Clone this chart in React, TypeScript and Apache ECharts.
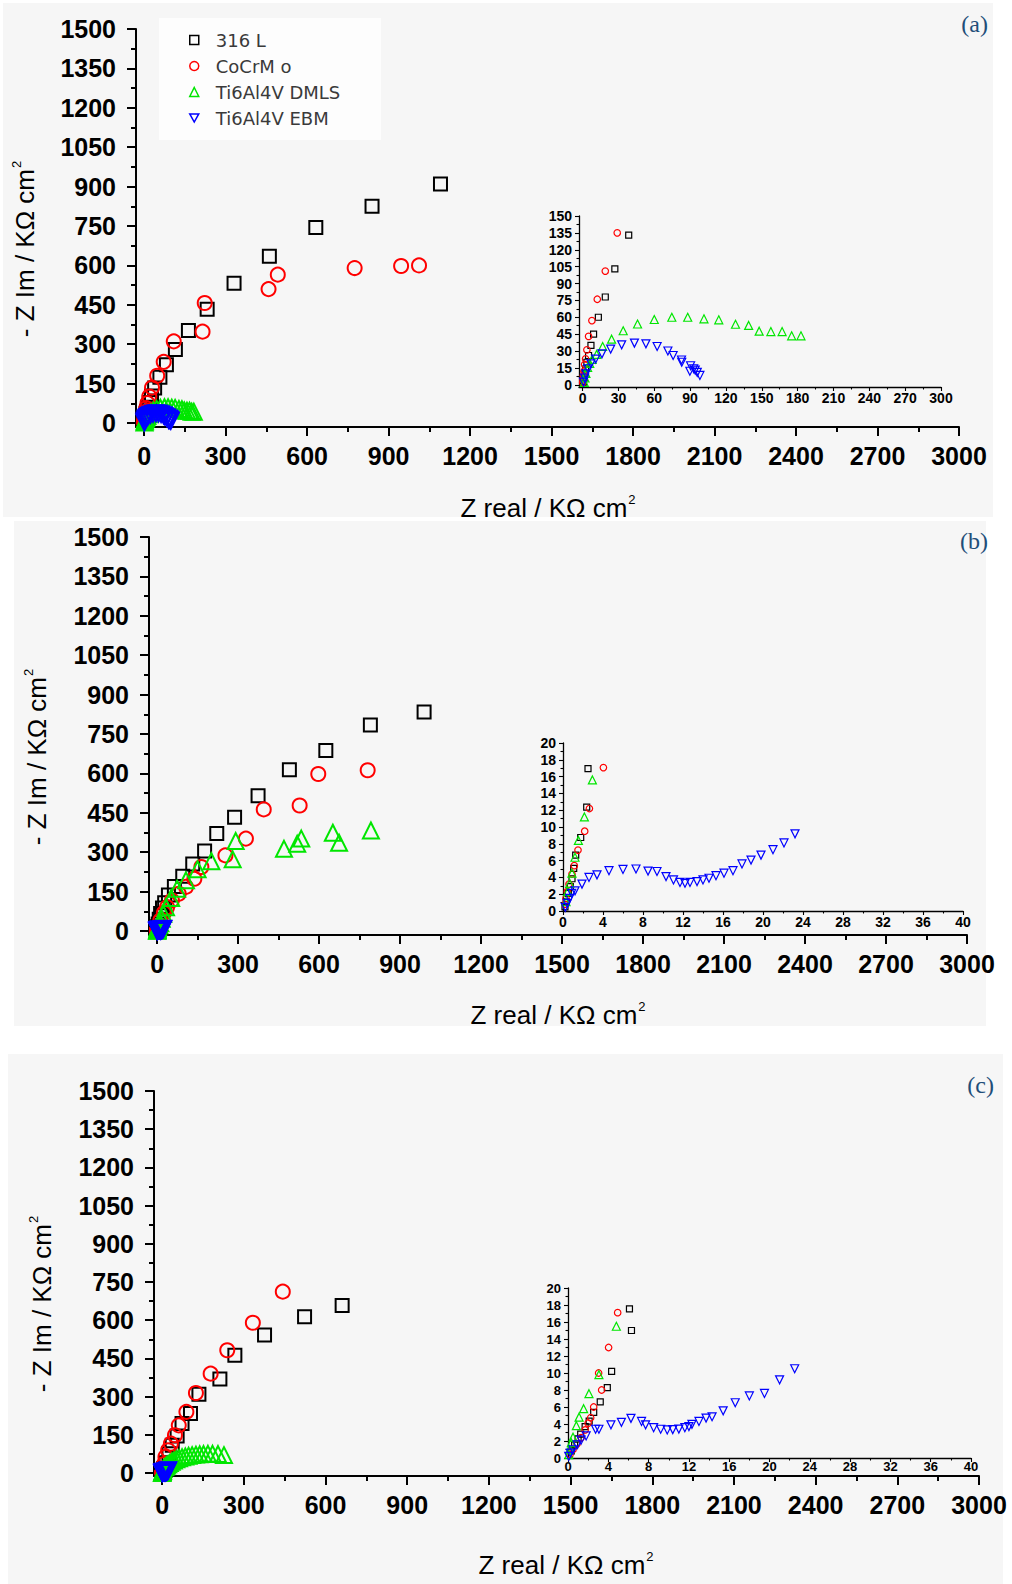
import React, { useEffect, useRef } from 'react';
import * as echarts from 'echarts';

// ---------- DATA (Z real, -Z Im) in kΩ cm² ----------
// Panel (a)
const a316L = [[0.4,1.5],[0.8,3],[1.3,6],[2,10],[2.5,14],[3.6,20],[5,26],[7,35],[9.2,45],[13.2,60],[19,78],[27,103],[38.6,133],[58,174],[82,222],[115,280],[163,352],[232,433],[331,532],[461,635],[632,744],[839,825],[1091,910]];
const aCoCrMo = [[0.1,2],[0.3,4.4],[0.6,8],[1.1,12],[1.7,18],[2.5,23],[3.6,31],[5,43],[7.8,57],[12.3,76],[19,101],[29,135],[48,180],[72,233],[109,311],[215,348],[223,457],[458,510],[492,565],[775,590],[946,598],[1012,600]];
const aDMLS = [[1.4,2],[2,6],[2.8,10],[4.2,15.4],[6,19],[8,22.5],[11.8,27],[16.8,34],[24.3,40.5],[34,48],[46,54],[60,58],[74.7,60],[88,60],[101.6,58.6],[114,57.7],[128,53.8],[139,52.7],[147.8,47.6],[157.6,47.3],[167,47.3],[175,43.5],[182.8,43.5]];
const aEBM = [[0.8,2.4],[1.7,6],[2.8,9.8],[4.5,14.2],[7,18.6],[10.9,22.8],[16.2,27.5],[23.5,31.7],[32.7,35.5],[43.4,37],[53,36.4],[62.4,34],[71.4,30],[75.8,26],[82.8,22],[83,20],[89.8,12],[90.4,16.9],[93,14.2],[94.3,13],[96,11],[98.2,8.3]];

// Panel (b)
const b316L = [[0.2,0.5],[0.33,1.1],[0.53,2.1],[0.73,2.9],[0.9,3.84],[1.07,5.07],[1.27,6.65],[1.77,8.75],[2.37,12.36],[2.5,16.95],[4,27],[8,45],[13,67],[20,88],[28,108],[42,137],[64,170],[95,209],[132,255],[176,305],[221,371],[287,433],[374,515],[490,614],[625,687],[790,784],[989,834]];
const bCoCrMo = [[0.2,0.8],[0.3,1.5],[0.43,2.3],[0.6,3.2],[0.9,4.4],[1.13,5.4],[1.5,7.25],[2.17,9.5],[2.64,12.2],[4.04,17.07],[12,40],[25,69],[37,91],[55,117],[80,142],[107,168],[138,199],[164,244],[253,288],[329,352],[395,463],[528,478],[597,598],[780,612]];
const bDMLS = [[0.3,1.1],[0.47,2.3],[0.67,3.3],[0.9,4.5],[1.2,6.4],[1.54,8.4],[2.14,11.2],[2.94,15.6],[8,22],[12,30],[17,47],[23,66],[33,91],[52,126],[74,161],[107,193],[150,235],[201,266],[280,273],[291,343],[470,313],[519,332],[534,352],[651,374],[674,336],[792,383]];
const bEBM = [[0.23,0.44],[0.43,0.9],[0.67,1.5],[0.87,2.1],[1.2,2.4],[1.9,3.2],[2.6,4.0],[3.4,4.3],[4.6,4.8],[6,4.95],[7.3,5.0],[8.5,4.75],[9.4,4.7],[10.3,4.1],[11.05,3.7],[11.7,3.4],[12.2,3.3],[12.7,3.4],[13.4,3.5],[14,3.7],[14.6,3.9],[15.3,4.2],[16.1,4.5],[17,4.8],[17.9,5.6],[18.8,6.06],[19.8,6.65],[21,7.3],[22.1,8.1],[23.2,9.19]];

// Panel (c)
const c316L = [[0.33,0.85],[0.66,1.55],[1,2.25],[1.26,2.8],[1.7,3.7],[2.1,4.35],[2.55,5.36],[3.2,6.6],[3.9,8.27],[4.33,10.2],[6.3,15],[6.1,17.55],[14,40],[25,75],[37,109],[55,145],[73,194],[104,233],[135,309],[212,369],[267,462],[376,542],[523,613],[661,658]];
const cCoCrMo = [[0.2,0.4],[0.5,1],[0.9,1.67],[1.3,2.4],[1.7,3.3],[2,4.1],[2.25,4.74],[2.55,6],[3.34,8],[3.04,10],[4.03,13],[4.93,17.1],[7,35],[12,63],[22,89],[32,115],[47,148],[61,187],[89,240],[124,314],[178,390],[239,482],[333,590],[443,712]];
const cDMLS = [[0.07,0.4],[0.17,1],[0.33,1.8],[0.5,2.45],[0.83,3.8],[1.1,4.8],[1.55,5.8],[2.08,7.57],[3.07,9.8],[4.8,15.5],[9,22],[13,25],[17,29],[22,34],[28,39],[35,44],[43,49],[52,54],[62,58],[73,62],[85,65],[97,68],[110,70],[124,72],[138,73],[152,74],[168,75],[185,75],[205,74],[227,70]];
const cEBM = [[0.07,0.2],[0.23,0.58],[0.5,0.97],[0.9,1.55],[1.3,2.1],[1.8,2.6],[2.74,3.38],[3.07,3.38],[4.26,3.9],[5.3,4.2],[6.25,4.66],[7.3,4.3],[7.7,3.9],[8.5,3.57],[9.2,3.38],[9.85,3.3],[10.4,3.34],[11,3.4],[11.6,3.57],[12,3.7],[12.3,3.96],[13,4.3],[13.7,4.7],[14.3,4.85],[15.4,5.55],[16.6,6.5],[18,7.3],[19.5,7.6],[21,9.2],[22.5,10.5]];

// ---------- TICKS ----------
const mainXTicks = [0,300,600,900,1200,1500,1800,2100,2400,2700,3000];
const mainYTicks = [0,150,300,450,600,750,900,1050,1200,1350,1500];
const insetAXTicks = [0,30,60,90,120,150,180,210,240,270,300];
const insetAYTicks = [0,15,30,45,60,75,90,105,120,135,150];
const insetBCXTicks = [0,4,8,12,16,20,24,28,32,36,40];
const insetBCYTicks = [0,2,4,6,8,10,12,14,16,18,20];

const seriesNames = ['316 L', 'CoCrM o', 'Ti6Al4V DMLS', 'Ti6Al4V EBM'];
const panelLabels = ['(a)', '(b)', '(c)'];

const panelData = [
  [a316L, aCoCrMo, aDMLS, aEBM],
  [b316L, bCoCrMo, bDMLS, bEBM],
  [c316L, cCoCrMo, cDMLS, cEBM],
];

const mats = [
  { color: '#000000', symbol: 'rect', rot: 0, big: 13, small: 6 },
  { color: '#ff0000', symbol: 'circle', rot: 0, big: 14, small: 6.5 },
  { color: '#00e600', symbol: 'triangle', rot: 0, big: 16, small: 8 },
  { color: '#0000ff', symbol: 'triangle', rot: 180, big: 16, small: 8 },
];

const FONT = '"Liberation Sans", Arial, Helvetica, sans-serif';

const midpoints = (arr: number[]) => arr.slice(0, -1).map((v, i) => (v + arr[i + 1]) / 2);

const grids: any[] = [
  { left: 136, top: 29, width: 823, height: 398, xmin: -30, xmax: 3000, ymin: -15, ymax: 1500, xt: mainXTicks, yt: mainYTicks, main: true, xm: 16, fs: 25 },
  { left: 579, top: 216, width: 362, height: 171, xmin: -3, xmax: 300, ymin: -2, ymax: 150, xt: insetAXTicks, yt: insetAYTicks, main: false, xm: 4, fs: 14 },
  { left: 149, top: 537, width: 818, height: 398, xmin: -30, xmax: 3000, ymin: -15, ymax: 1500, xt: mainXTicks, yt: mainYTicks, main: true, xm: 16, fs: 25 },
  { left: 563, top: 743, width: 400, height: 168, xmin: 0, xmax: 40, ymin: 0, ymax: 20, xt: insetBCXTicks, yt: insetBCYTicks, main: false, xm: 4, fs: 14 },
  { left: 154, top: 1091, width: 825, height: 385, xmin: -30, xmax: 3000, ymin: -12, ymax: 1500, xt: mainXTicks, yt: mainYTicks, main: true, xm: 16, fs: 25 },
  { left: 568, top: 1288, width: 403, height: 170, xmin: 0, xmax: 40, ymin: 0, ymax: 20, xt: insetBCXTicks, yt: insetBCYTicks, main: false, xm: 2, fs: 13 },
];

function buildOption() {
  const gridOpts: any[] = [];
  const xAxes: any[] = [];
  const yAxes: any[] = [];
  for (let pass = 0; pass < 2; pass++) {
    grids.forEach((g) => {
      const gi = gridOpts.length;
      gridOpts.push({ left: g.left, top: g.top, width: g.width, height: g.height, containLabel: false });
      const minor = pass === 1;
      const lw = g.main ? 2 : 1.3;
      const mk = (dir: 'x' | 'y') => {
        const ticks = dir === 'x' ? g.xt : g.yt;
        return {
          type: 'value',
          gridIndex: gi,
          min: dir === 'x' ? g.xmin : g.ymin,
          max: dir === 'x' ? g.xmax : g.ymax,
          position: dir === 'x' ? 'bottom' : 'left',
          axisLine: { show: !minor, onZero: false, lineStyle: { color: '#000', width: lw } },
          axisTick: {
            show: true,
            customValues: minor ? midpoints(ticks) : ticks,
            length: minor ? (g.main ? 5 : 2.5) : (g.main ? 9 : 4),
            lineStyle: { color: '#000', width: g.main ? 2 : 1.1 },
          },
          axisLabel: {
            show: !minor,
            customValues: ticks,
            formatter: (v: number) => String(v),
            margin: dir === 'x' ? g.xm : (g.main ? 20 : 7),
            fontSize: g.fs,
            fontWeight: 'bold',
            fontFamily: FONT,
            color: '#000',
          },
          splitLine: { show: false },
          minorTick: { show: false },
          silent: true,
        };
      };
      xAxes.push(mk('x'));
      yAxes.push(mk('y'));
    });
  }

  const series: any[] = [];
  panelData.forEach((mset, p) => {
    [0, 1].forEach((k) => {
      const gi = p * 2 + k;
      const isMain = k === 0;
      mset.forEach((data, m) => {
        const mat = mats[m];
        series.push({
          type: 'scatter',
          name: seriesNames[m],
          xAxisIndex: gi,
          yAxisIndex: gi,
          data,
          symbol: mat.symbol,
          symbolRotate: mat.rot,
          symbolSize: isMain ? mat.big : mat.small,
          itemStyle: { color: 'rgba(0,0,0,0)', borderColor: mat.color, borderWidth: isMain ? 2 : 1.2, opacity: 1 },
          emphasis: { disabled: true },
          silent: true,
          clip: true,
          z: 3 + m,
        });
      });
    });
  });

  const sup = { fontSize: 13, fontFamily: FONT, color: '#000', verticalAlign: 'top', padding: [0, 0, 14, 1] };
  const titleStyle = (text: string) => ({
    text,
    rich: { n: { fontSize: 26, fontFamily: FONT, color: '#000', lineHeight: 30 }, s: sup },
    align: 'center',
    verticalAlign: 'middle',
  });
  const yTitle = '{n|- Z Im / KΩ cm}{s|2}';
  const xTitle = '{n|Z real / KΩ cm}{s|2}';

  const graphic: any[] = [
    { type: 'rect', z: -10, shape: { x: 3, y: 3, width: 990, height: 514 }, style: { fill: '#f6f6f6' }, silent: true },
    { type: 'rect', z: -10, shape: { x: 14, y: 521, width: 972, height: 505 }, style: { fill: '#f6f6f6' }, silent: true },
    { type: 'rect', z: -10, shape: { x: 8, y: 1054, width: 995, height: 530 }, style: { fill: '#f6f6f6' }, silent: true },
    { type: 'rect', z: -9, shape: { x: 159, y: 18, width: 222, height: 122 }, style: { fill: '#fdfdfd' }, silent: true },
    { type: 'text', x: 548, y: 508, style: titleStyle(xTitle), silent: true },
    { type: 'text', x: 558, y: 1015, style: titleStyle(xTitle), silent: true },
    { type: 'text', x: 566, y: 1565, style: titleStyle(xTitle), silent: true },
    { type: 'text', x: 25, y: 249, rotation: Math.PI / 2, style: titleStyle(yTitle), silent: true },
    { type: 'text', x: 37, y: 757, rotation: Math.PI / 2, style: titleStyle(yTitle), silent: true },
    { type: 'text', x: 42, y: 1304, rotation: Math.PI / 2, style: titleStyle(yTitle), silent: true },
  ];
  const labelPos = [[988, 24], [988, 541], [994, 1085]];
  panelLabels.forEach((t, i) => {
    graphic.push({
      type: 'text', x: labelPos[i][0], y: labelPos[i][1], silent: true,
      style: { text: t, align: 'right', verticalAlign: 'middle', fontSize: 24, fontFamily: '"Liberation Serif", "Times New Roman", serif', fill: '#1f4e79' },
    });
  });

  const legendIcons = ['rect', 'circle', 'triangle', 'path://M0,0L10,0L5,9Z'];

  return {
    animation: false,
    backgroundColor: '#ffffff',
    grid: gridOpts,
    xAxis: xAxes,
    yAxis: yAxes,
    series,
    graphic,
    legend: {
      show: true,
      orient: 'vertical',
      left: 184,
      top: 26,
      itemWidth: 9,
      itemHeight: 9,
      itemGap: 8,
      selectedMode: false,
      textStyle: { fontSize: 18, fontFamily: '"DejaVu Sans", Arial, sans-serif', color: '#3a3a3a', lineHeight: 17, padding: [0, 0, 0, 12] },
      data: seriesNames.map((name, i) => ({
        name,
        icon: legendIcons[i],
        itemStyle: { color: 'rgba(0,0,0,0)', borderColor: mats[i].color, borderWidth: 1.5 },
      })),
    },
  };
}

export default function App() {
  const ref = useRef<HTMLDivElement>(null);
  useEffect(() => {
    if (!ref.current) return;
    const chart = echarts.init(ref.current, null, { renderer: 'svg' });
    chart.setOption(buildOption() as any);
    return () => chart.dispose();
  }, []);
  return (
    <div
      ref={ref}
      style={{ position: 'absolute', left: 0, top: 0, width: 1012, height: 1584 }}
    />
  );
}
